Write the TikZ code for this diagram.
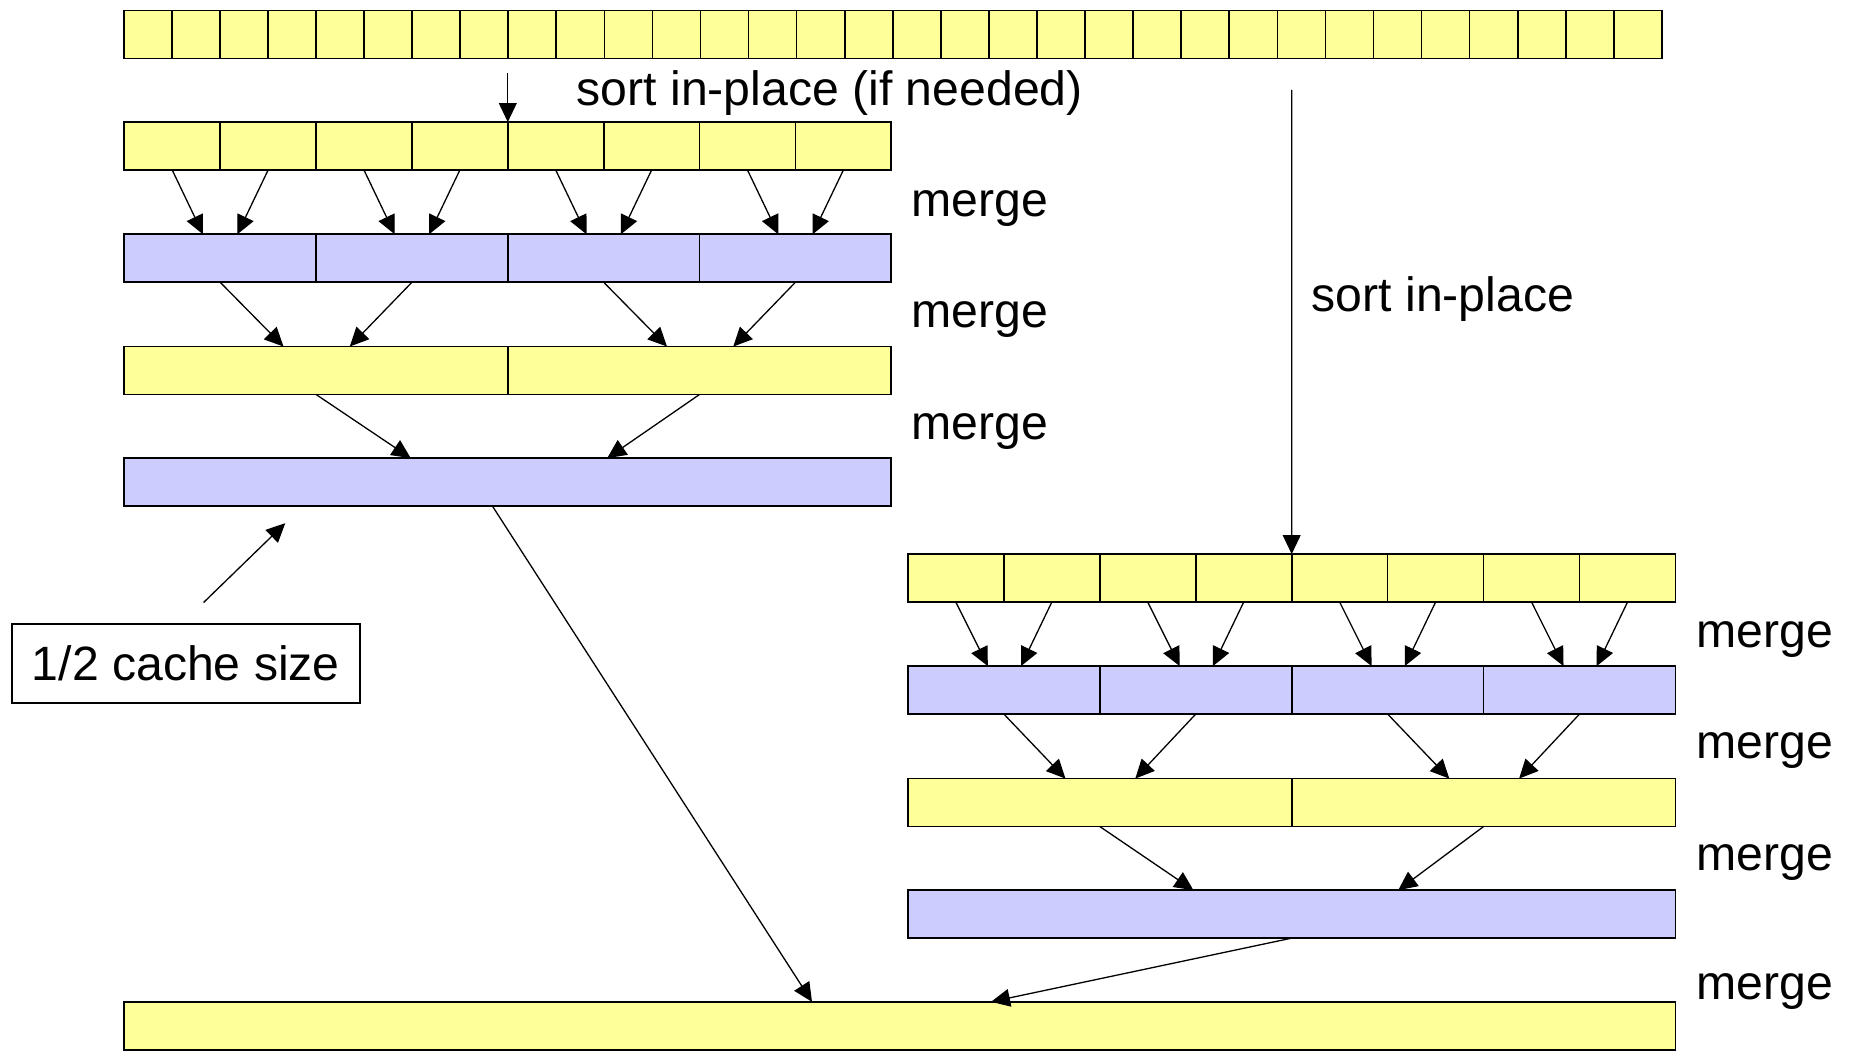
\documentclass[tikz,border=0pt]{standalone}
\usepackage{fontspec}
\setmainfont{Liberation Sans}
\usetikzlibrary{arrows.meta,calc}
\definecolor{cellyellow}{HTML}{FFFF99}
\definecolor{cellblue}{HTML}{CCCCFF}
\begin{document}
\begin{tikzpicture}[x=1pt,y=-1pt,
  cellbox/.style={draw=black, line width=1.4pt, inner sep=0pt, outer sep=0pt, minimum height=40.5pt},
  ycell/.style={cellbox, fill=cellyellow},
  bcell/.style={cellbox, fill=cellblue},
  conn/.style={line width=1.1pt, -{Triangle[length=16pt,width=15pt]}},
  lbl/.style={font=\fontsize{40.7}{48}\selectfont, inner sep=0pt, anchor=base west}]
\useasboundingbox (0,0) rectangle (1568,888);
% top row
\foreach \i in {1,...,32}
  \node[ycell, minimum width=40.61pt] (T\i) at ({104.5+40.61*(\i-0.5)},29.2) {};
% left column
\foreach \i in {1,...,8}
  \node[ycell, minimum width=81pt] (La\i) at ({105+81*(\i-0.5)},123.4) {};
\foreach \i in {1,...,4}
  \node[bcell, minimum width=162pt] (Lb\i) at ({105+162*(\i-0.5)},218.2) {};
\foreach \i in {1,2}
  \node[ycell, minimum width=324pt] (Lc\i) at ({105+324*(\i-0.5)},313) {};
\node[bcell, minimum width=648pt] (Ld1) at (429,407.3) {};
% right column
\foreach \i in {1,...,8}
  \node[ycell, minimum width=81.06pt] (Ra\i) at ({767+81.06*(\i-0.5)},488.4) {};
\foreach \i in {1,...,4}
  \node[bcell, minimum width=162.12pt] (Rb\i) at ({767+162.12*(\i-0.5)},583) {};
\foreach \i in {1,2}
  \node[ycell, minimum width=324.25pt] (Rc\i) at ({767+324.25*(\i-0.5)},678) {};
\node[bcell, minimum width=648.5pt] (Rd1) at (1091.25,772.3) {};
% bottom row
\node[ycell, minimum width=1310.5pt] (B) at (760.25,866.6) {};
% merge arrows
\foreach \j in {1,...,4} {
  \pgfmathtruncatemacro\a{2*\j-1}
  \pgfmathtruncatemacro\b{2*\j}
  \draw[conn] (La\a.south) -- ($(Lb\j.north)+(-14.5,0)$);
  \draw[conn] (La\b.south) -- ($(Lb\j.north)+(14.5,0)$);
  \draw[conn] (Ra\a.south) -- ($(Rb\j.north)+(-13.5,0)$);
  \draw[conn] (Ra\b.south) -- ($(Rb\j.north)+(14.5,0)$);
}
\foreach \j in {1,2} {
  \pgfmathtruncatemacro\a{2*\j-1}
  \pgfmathtruncatemacro\b{2*\j}
  \draw[conn] (Lb\a.south) -- ($(Lc\j.north)+(-27.5,0)$);
  \draw[conn] (Lb\b.south) -- ($(Lc\j.north)+(28.5,0)$);
  \draw[conn] (Rb\a.south) -- ($(Rc\j.north)+(-29,0)$);
  \draw[conn] (Rb\b.south) -- ($(Rc\j.north)+(30,0)$);
}
\draw[conn] (Lc1.south) -- ($(Ld1.north)+(-82,0)$);
\draw[conn] (Lc2.south) -- ($(Ld1.north)+(84,0)$);
\draw[conn] (Rc1.south) -- ($(Rd1.north)+(-83,0)$);
\draw[conn] (Rc2.south) -- ($(Rd1.north)+(90,0)$);
\draw[conn] ($(Ld1.south)+(-13,0)$) -- ($(B.north)+(-74.25,0)$);
\draw[conn] (Rd1.south) -- ($(B.north)+(77,0)$);
% sort arrows
\coordinate (s1) at (429,62);
\draw[conn] (s1) -- (La4.north east);
\coordinate (s2) at (1091.25,76);
\draw[conn] (s2) -- (Ra4.north east);
% labels
\node[lbl] (sortA) at (487,89.5) {sort in-place (if needed)};
\node[lbl] (sortB) at (1108,263) {sort in-place};
\node[lbl] (mL1) at (770,183) {merge};
\node[lbl] (mL2) at (770,277) {merge};
\node[lbl] (mL3) at (770,371) {merge};
\node[lbl] (mR1) at (1433,547) {merge};
\node[lbl] (mR2) at (1433,641) {merge};
\node[lbl] (mR3) at (1433,735) {merge};
\node[lbl] (mR4) at (1433,844) {merge};
% cache box
\node[draw=black, line width=1.2pt, minimum width=294pt, minimum height=67pt, inner sep=0pt,
      font=\fontsize{40.7}{48}\selectfont] (cache) at (157,560.5) {1/2 cache size};
\coordinate (c1) at (172,509);
\coordinate (c2) at (241,442);
\draw[conn] (c1) -- (c2);
\end{tikzpicture}
\end{document}
